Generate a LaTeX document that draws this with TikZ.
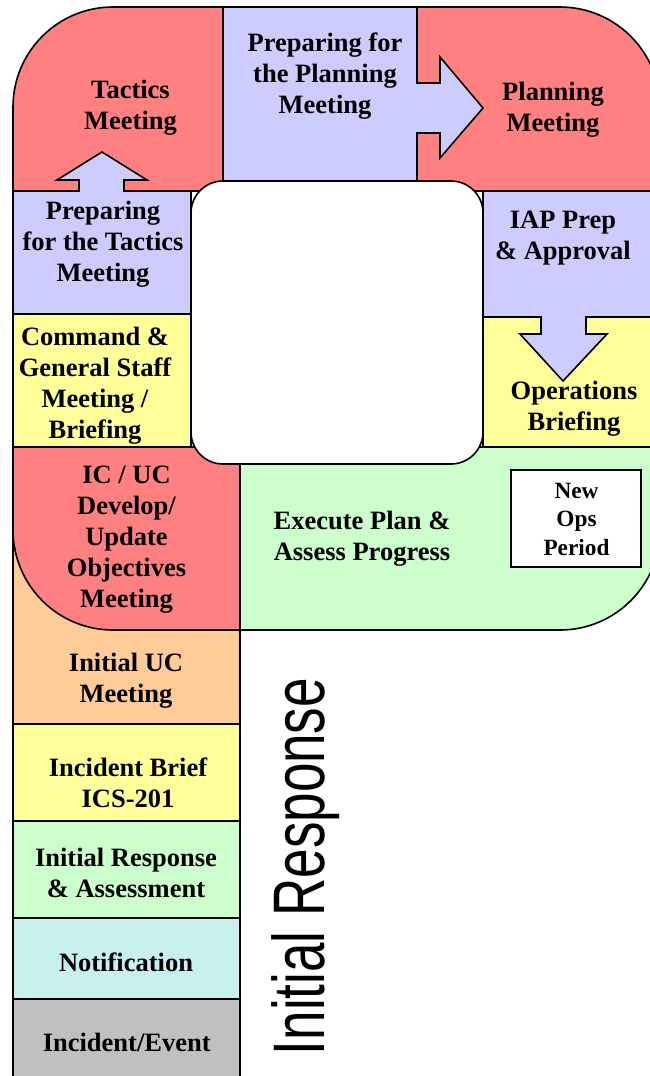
\documentclass[tikz,border=0pt]{standalone}
\usepackage{fontspec}
\setmainfont{Liberation Serif}
\newfontfamily\arialfont{Liberation Sans}
\definecolor{meetred}{RGB}{255,128,128}
\definecolor{preplilac}{RGB}{204,204,255}
\definecolor{briefyellow}{RGB}{255,255,153}
\definecolor{execgreen}{RGB}{204,255,204}
\definecolor{ucorange}{RGB}{255,204,153}
\definecolor{notecyan}{RGB}{200,240,238}
\definecolor{eventgray}{RGB}{192,192,192}
\tikzset{
    block/.style={draw=black, line width=1.6pt, line join=miter},
    steptext/.style={anchor=base, align=center, inner sep=0pt, font=\fontsize{26.5}{31}\selectfont\bfseries},
    smalltext/.style={steptext, font=\fontsize{23.3}{28.5}\selectfont\bfseries}
}

\begin{document}
\begin{tikzpicture}[x=1pt, y=-1pt]
    \useasboundingbox (0,0) rectangle (650,1076);
    \draw[block, fill=eventgray] (13,999) rectangle (240,1090);
    \draw[block, fill=notecyan] (13,918) rectangle (240,999);
    \draw[block, fill=execgreen] (13,821) rectangle (240,918);
    \draw[block, fill=briefyellow] (13,724) rectangle (240,821);
    \draw[block, fill=ucorange] (13,447) rectangle (240,724);
    \begin{scope}
        \clip[rounded corners=100pt] (13,7) rectangle (660,630);
        \draw[block, fill=meetred] (13,7) rectangle (223,191);
        \draw[block, fill=meetred] (417,7) rectangle (660,191);
        \draw[block, fill=briefyellow] (13,314) rectangle (191,447);
        \draw[block, fill=briefyellow] (483,317) rectangle (660,447);
        \draw[block, fill=meetred] (13,447) rectangle (240,630);
        \draw[block, fill=execgreen] (240,447) rectangle (660,630);
        \draw[block, fill=preplilac] (13,314) -- (13,191) -- (79,191) -- (79,180) -- (57,180) -- (102,152) -- (147,180) -- (124,180) -- (124,191) -- (191,191) -- (191,314) -- cycle;
        \draw[block, fill=preplilac] (223,181) -- (223,7) -- (417,7) -- (417,83) -- (440,83) -- (440,57) -- (483,108) -- (440,158) -- (440,133) -- (417,133) -- (417,181) -- cycle;
        \draw[block, fill=preplilac] (483,191) -- (660,191) -- (660,317) -- (586,317) -- (586,334) -- (607,334) -- (563,381) -- (520,334) -- (541,334) -- (541,317) -- (483,317) -- cycle;
    \end{scope}
    \draw[block, rounded corners=100pt] (13,7) rectangle (660,630);
    \draw[block, fill=white, rounded corners=32pt] (191,181) rectangle (483,464);
    \draw[block, fill=white] (511,470) rectangle (641,567);

    \node[steptext] at (130.5,129.5) (tactics) {Tactics\\Meeting};
    \node[steptext] at (325,113) (prepplan) {Preparing for\\the Planning\\Meeting};
    \node[steptext] at (553,131) (planning) {Planning\\Meeting};
    \node[steptext] at (103,281) (preptactics) {Preparing\\for the Tactics\\Meeting};
    \node[steptext] at (563,259) (iap) {IAP Prep\\\& Approval};
    \node[steptext] at (95,438) (cgs) {Command \&\\General Staff\\Meeting /\\Briefing};
    \node[steptext] at (574,430) (opsbrief) {Operations\\Briefing};
    \node[steptext] at (126.5,607) (icuc) {IC / UC\\Develop/\\Update\\Objectives\\Meeting};
    \node[steptext] at (362,560) (execute) {Execute Plan \&\\Assess Progress};
    \node[smalltext] at (576.5,555) (newops) {New\\Ops\\Period};
    \node[steptext] at (126,702) (initialuc) {Initial UC\\Meeting};
    \node[steptext] at (128,807) (ics) {Incident Brief\\ICS-201};
    \node[steptext] at (126,897) (initresp) {Initial Response\\\& Assessment};
    \node[steptext] at (126,971) (notify) {Notification};
    \node[steptext] at (126.7,1051) (event) {Incident/Event};
    \node[anchor=base, rotate=90, inner sep=0pt] at (324,866.5) (phase) {\scalebox{0.726}[1]{\arialfont\fontsize{73}{73}\selectfont Initial Response}};
\end{tikzpicture}
\end{document}
